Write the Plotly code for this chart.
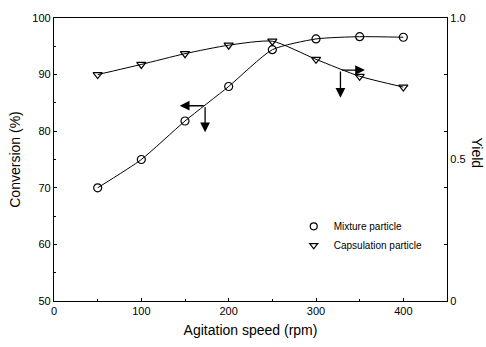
import plotly.graph_objects as go

speed = [50, 100, 150, 200, 250, 300, 350, 400]
conversion = [70.0, 75.0, 81.8, 87.9, 94.4, 96.3, 96.7, 96.6]
yield_vals = [0.800, 0.836, 0.874, 0.904, 0.918, 0.854, 0.794, 0.756]
series_names = ["Mixture particle", "Capsulation particle"]

FONT = "Liberation Sans, Arial, sans-serif"

fig = go.Figure()
fig.add_trace(go.Scatter(
    x=speed, y=conversion, name=series_names[0], mode="lines+markers", showlegend=False,
    line=dict(color="black", width=1, shape="spline", smoothing=0.6),
    marker=dict(symbol="circle-open", size=8, color="black", line=dict(width=1.2)),
))
fig.add_trace(go.Scatter(
    x=speed, y=yield_vals, name=series_names[1], mode="lines+markers", yaxis="y2", showlegend=False,
    line=dict(color="black", width=1, shape="spline", smoothing=0.6),
    marker=dict(symbol="triangle-down-open", size=8, color="black", line=dict(width=1.2)),
))
# legend entries: markers only
fig.add_trace(go.Scatter(x=[None], y=[None], name=series_names[0], mode="markers",
                         marker=dict(symbol="circle-open", size=7, color="black", line=dict(width=1.2))))
fig.add_trace(go.Scatter(x=[None], y=[None], name=series_names[1], mode="markers",
                         marker=dict(symbol="triangle-down-open", size=7, color="black", line=dict(width=1.2))))

arrows = [
    # (x_head, y_head, x_tail, y_tail)
    (144, 84.5, 173, 84.5),
    (173, 79.8, 173, 84.5),
    (356, 90.8, 328, 90.8),
    (328, 85.9, 328, 90.8),
]
for xh, yh, xt, yt in arrows:
    fig.add_annotation(x=xh, y=yh, ax=xt, ay=yt, xref="x", yref="y", axref="x", ayref="y",
                       showarrow=True, arrowhead=2, arrowsize=1.5, arrowwidth=1.3,
                       arrowcolor="black", text="")

fig.add_annotation(text="Yield", x=1.0, y=0.5, xref="paper", yref="paper",
                   xanchor="center", yanchor="middle",
                   xshift=30, yshift=7, textangle=90, showarrow=False,
                   font=dict(family=FONT, size=14, color="black"))

fig.update_layout(
    width=486, height=347,
    margin=dict(l=54, r=39, t=14, b=46),
    paper_bgcolor="white", plot_bgcolor="white",
    font=dict(family=FONT, size=11, color="black"),
    showlegend=True,
    legend=dict(x=0.61, y=0.315, xanchor="left", yanchor="top",
                bgcolor="rgba(0,0,0,0)", font=dict(size=10),
                itemwidth=30, tracegroupgap=0),
    xaxis=dict(range=[0, 450], tickvals=[0, 100, 200, 300, 400],
               ticks="inside", ticklen=3, tickcolor="black",
               minor=dict(tickvals=[50, 150, 250, 350], ticks="inside", ticklen=2, tickcolor="black"),
               showline=True, linecolor="black", linewidth=1.2, mirror=True,
               showgrid=False, zeroline=False,
               title=dict(text="Agitation speed (rpm)", font=dict(size=14), standoff=8)),
    yaxis=dict(range=[50, 100], tickvals=[50, 60, 70, 80, 90, 100],
               ticks="inside", ticklen=3, tickcolor="black",
               minor=dict(tickvals=[55, 65, 75, 85, 95], ticks="inside", ticklen=2, tickcolor="black"),
               showline=True, linecolor="black", linewidth=1.2,
               showgrid=False, zeroline=False,
               title=dict(text="Conversion (%)", font=dict(size=14), standoff=8)),
    yaxis2=dict(range=[0, 1.0], overlaying="y", side="right",
                tickvals=[0, 0.5, 1.0], ticktext=["0", "0.5", "1.0"], ticks="",
                minor=dict(tickvals=[0.2, 0.4, 0.6, 0.8], ticks="inside", ticklen=3, tickcolor="black"),
                showline=True, linecolor="black", linewidth=1.2,
                showgrid=False, zeroline=False),
)

fig.write_html("out.html")
